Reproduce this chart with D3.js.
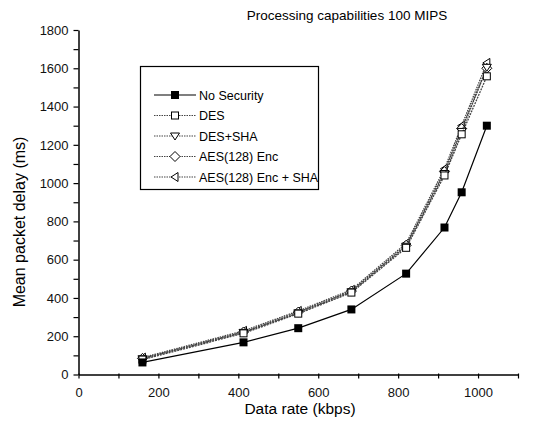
<!DOCTYPE html>
<html><head><meta charset="utf-8">
<script src="https://cdn.jsdelivr.net/npm/d3@7"></script>
<style>body{margin:0;background:#fff}svg{display:block;font-family:"Liberation Sans",Arial,sans-serif}</style>
</head><body><svg id="c" width="551" height="423"></svg>
<script>
const rates = [160, 413, 550, 683, 820, 916, 959, 1022];
const seriesNames = ["No Security", "DES", "DES+SHA", "AES(128) Enc", "AES(128) Enc + SHA"];
const noSecurity = [63, 168, 242, 340, 527, 768, 952, 1300];
const des = [78, 215, 318, 428, 662, 1040, 1255, 1558];
const desSha = [82, 220, 322, 432, 670, 1050, 1270, 1605];
const aesEnc = [84, 222, 326, 436, 675, 1060, 1285, 1600];
const aesEncSha = [88, 228, 332, 442, 685, 1075, 1300, 1628];
const xTicks = [0, 200, 400, 600, 800, 1000];
const yTicks = [0, 200, 400, 600, 800, 1000, 1200, 1400, 1600, 1800];
const title = "Processing capabilities 100 MIPS";
const xTitle = "Data rate (kbps)";
const yTitle = "Mean packet delay (ms)";

const allSeries = [noSecurity, des, desSha, aesEnc, aesEncSha];
const markers = ["squareFilled", "square", "triDown", "diamond", "triLeft"];

const svg = d3.select("#c");
const x = d3.scaleLinear().domain([0, 1100]).range([78.5, 518]);
const y = d3.scaleLinear().domain([0, 1800]).range([374.5, 30]);

const xAxis = d3.axisBottom(x).tickValues(d3.range(0, 1101, 100)).tickSize(5).tickSizeOuter(0)
  .tickFormat(d => xTicks.includes(d) ? d : "");
const gx = svg.append("g").attr("transform", `translate(0,${y(0)})`).call(xAxis);
const yAxis = d3.axisLeft(y).tickValues(d3.range(0, 1801, 100)).tickSize(5).tickSizeOuter(0)
  .tickFormat(d => yTicks.includes(d) ? d : "");
const gy = svg.append("g").attr("transform", `translate(${x(0)},0)`).call(yAxis);
[gx, gy].forEach(g => {
  g.select(".domain").attr("stroke", "#000").attr("stroke-width", 1.5);
  g.selectAll(".tick line").attr("stroke", "#000").attr("stroke-width", 1.2);
  g.selectAll(".tick text").attr("font-size", 13).attr("font-family", "Liberation Sans, Arial, sans-serif").attr("fill", "#111");
});
gx.selectAll(".tick line").attr("transform", "translate(0,-1)");
gx.selectAll(".tick text").attr("dy", "1.1em");
gy.selectAll(".tick text").attr("dx", "-0.15em");

svg.append("text").attr("x", 347).attr("y", 20).attr("text-anchor", "middle").attr("font-size", 13.5).text(title);
svg.append("text").attr("x", 300).attr("y", 414).attr("text-anchor", "middle").attr("font-size", 15.5).text(xTitle);
svg.append("text").attr("transform", `translate(25,222) rotate(-90)`).attr("text-anchor", "middle").attr("font-size", 16).text(yTitle);

function marker(g, type, cx, cy, s) {
  s = s || 4;
  if (type === "squareFilled") g.append("rect").attr("x", cx - s).attr("y", cy - s).attr("width", 2*s).attr("height", 2*s).attr("fill", "#000");
  else if (type === "square") g.append("rect").attr("x", cx - s + 0.5).attr("y", cy - s + 0.5).attr("width", 2*s - 1).attr("height", 2*s - 1).attr("fill", "#fff").attr("stroke", "#000");
  else if (type === "triDown") g.append("path").attr("d", `M${cx - s - 0.5},${cy - s + 1}L${cx + s + 0.5},${cy - s + 1}L${cx},${cy + s}Z`).attr("fill", "#fff").attr("stroke", "#000");
  else if (type === "diamond") g.append("path").attr("d", `M${cx},${cy - s - 1}L${cx + s + 1},${cy}L${cx},${cy + s + 1}L${cx - s - 1},${cy}Z`).attr("fill", "#fff").attr("stroke", "#000");
  else if (type === "triLeft") g.append("path").attr("d", `M${cx - s},${cy}L${cx + s - 1},${cy - s - 0.5}L${cx + s - 1},${cy + s + 0.5}Z`).attr("fill", "#fff").attr("stroke", "#000");
}

const line = d3.line().x((d, i) => x(rates[i])).y(d => y(d));
for (let k = allSeries.length - 1; k >= 0; k--) {
  const g = svg.append("g");
  g.append("path").datum(allSeries[k]).attr("d", line).attr("fill", "none")
    .attr("stroke", k === 0 ? "#000" : "#444").attr("stroke-width", k === 0 ? 1.2 : 1.3)
    .attr("stroke-dasharray", k === 0 ? null : (k % 2 ? "2,1" : "1.5,1"));
  allSeries[k].forEach((v, i) => marker(g, markers[k], x(rates[i]), y(v)));
}

const lg = svg.append("g");
lg.append("rect").attr("x", 140.5).attr("y", 66.5).attr("width", 178).attr("height", 123).attr("fill", "#fff").attr("stroke", "#000").attr("stroke-width", 1.2);
seriesNames.forEach((n, k) => {
  const yy = 95 + k * 20.5;
  lg.append("line").attr("x1", 154).attr("x2", 196).attr("y1", yy).attr("y2", yy)
    .attr("stroke", k === 0 ? "#000" : "#444").attr("stroke-width", 1.2).attr("stroke-dasharray", k === 0 ? null : "1.5,1");
  marker(lg, markers[k], 175, yy);
  lg.append("text").attr("x", 199).attr("y", yy + 4.5).attr("font-size", 12.5).text(n);
});
</script></body></html>
